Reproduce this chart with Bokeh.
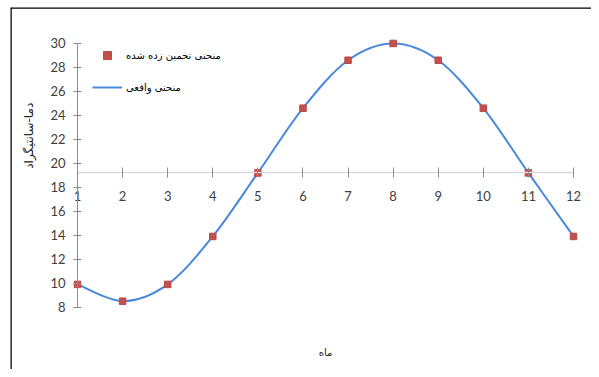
import math
from bokeh.plotting import figure
from bokeh.models import (LinearAxis, FixedTicker, Legend, LegendItem, Range1d,
                          ColumnDataSource, Span, Label)
from bokeh.embed import file_html
from bokeh.resources import INLINE

# ---- data ----
months = [1, 2, 3, 4, 5, 6, 7, 8, 9, 10, 11, 12]
estimated = [9.9, 8.5, 9.9, 13.9, 19.2, 24.6, 28.6, 30.0, 28.6, 24.6, 19.2, 13.9]
actual = [9.9, 8.5, 9.9, 13.9, 19.2, 24.6, 28.6, 30.0, 28.6, 24.6, 19.2, 13.9]
x_ticks = [1, 2, 3, 4, 5, 6, 7, 8, 9, 10, 11, 12]
y_ticks = [8, 10, 12, 14, 16, 18, 20, 22, 24, 26, 28, 30]
x_axis_crossing = 19.2   # horizontal axis crosses the vertical axis here
y_axis_crossing = 1      # vertical axis sits at month 1
x_title = "ماه"
y_title = "دما-سانتیگراد"
legend_estimated = "منحنی تخمین زده شده"
legend_actual = "منحنی واقعی"

# ---- layout (view extents) ----
X_START, X_END = -0.486, 12.399
Y_START, Y_END = 2.80, 33.0

# smooth (Excel-like) curve segments through the actual points
n = len(months)
def pt(i):
    i = max(0, min(n - 1, i))
    return months[i], actual[i]
seg = dict(x0=[], y0=[], x1=[], y1=[], cx0=[], cy0=[], cx1=[], cy1=[])
for i in range(n - 1):
    xa, ya = pt(i - 1)
    xb, yb = pt(i)
    xc, yc = pt(i + 1)
    xd, yd = pt(i + 2)
    seg["x0"].append(xb); seg["y0"].append(yb)
    seg["x1"].append(xc); seg["y1"].append(yc)
    seg["cx0"].append(xb + (xc - xa) / 6.0); seg["cy0"].append(yb + (yc - ya) / 6.0)
    seg["cx1"].append(xc - (xd - xb) / 6.0); seg["cy1"].append(yc - (yd - yb) / 6.0)

p = figure(width=591, height=369,
           x_range=Range1d(X_START, X_END), y_range=Range1d(Y_START, Y_END),
           output_backend="svg", toolbar_location=None,
           x_axis_type=None, y_axis_type=None,
           min_border_left=10, min_border_right=0, min_border_top=7, min_border_bottom=0,
           outline_line_color=None, background_fill_color="white", border_fill_color="white")

# chart-area border (left and top edges, as in the reference)
p.add_layout(Span(location=X_START, dimension="height", line_color="black", line_width=2.5))
p.add_layout(Span(location=Y_END, dimension="width", line_color="black", line_width=2.5))

tick_font = "Lato"
xaxis = LinearAxis(fixed_location=x_axis_crossing, ticker=FixedTicker(ticks=x_ticks), bounds=(1, 12),
                   axis_line_color="#d9d9d9", axis_line_width=1.5,
                   major_tick_line_color="#8c8c8c", major_tick_in=5, major_tick_out=5,
                   minor_tick_line_color=None, major_label_standoff=13,
                   major_label_text_font=tick_font, major_label_text_font_size="13px",
                   major_label_text_color="#404040")
p.add_layout(xaxis, "below")
yaxis = LinearAxis(fixed_location=y_axis_crossing, ticker=FixedTicker(ticks=y_ticks), bounds=(8, 30),
                   axis_line_color="#8c8c8c", axis_line_width=1,
                   major_tick_line_color="#8c8c8c", major_tick_in=4, major_tick_out=4,
                   minor_tick_line_color=None, major_label_standoff=8,
                   major_label_text_font=tick_font, major_label_text_font_size="13px",
                   major_label_text_color="#404040")
p.add_layout(yaxis, "left")

# axis titles
p.add_layout(Label(x=6.5, y=4.22, text=x_title, text_align="center", text_baseline="middle",
                   text_font="DejaVu Sans", text_font_size="10px", text_color="#262626"))
p.add_layout(Label(x=-0.08, y=22.3, text=y_title, angle=math.pi / 2,
                   text_align="center", text_baseline="middle",
                   text_font="DejaVu Sans", text_font_size="12px", text_color="#262626"))

curve = p.bezier(x0="x0", y0="y0", x1="x1", y1="y1", cx0="cx0", cy0="cy0", cx1="cx1", cy1="cy1",
                 source=ColumnDataSource(seg), line_color="#4a88dc", line_width=2)
pts = p.scatter(months, estimated, marker="square", size=6.5,
                fill_color="#c4504d", line_color="#b84a47", line_width=1)

legend = Legend(items=[LegendItem(label=legend_estimated, renderers=[pts]),
                       LegendItem(label=legend_actual, renderers=[curve])],
                location=(82, 272), orientation="vertical",
                background_fill_alpha=0, border_line_color=None,
                label_text_font="DejaVu Sans", label_text_font_size="10px",
                label_text_color="black", glyph_width=30, glyph_height=20,
                spacing=12, padding=5, label_standoff=4, margin=0)
p.add_layout(legend, "center")

open("out.html", "w").write(file_html(p, INLINE))
